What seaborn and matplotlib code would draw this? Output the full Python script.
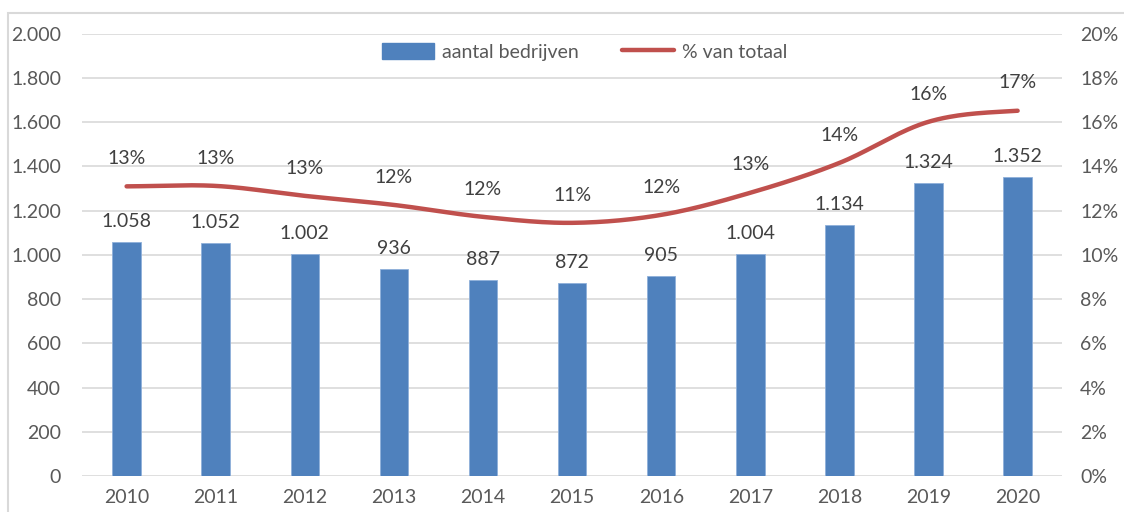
import numpy as np
import pandas as pd
import seaborn as sns
import matplotlib.pyplot as plt
import matplotlib.patches as patches
from matplotlib.lines import Line2D
from matplotlib.ticker import FuncFormatter

jaren = ['2010', '2011', '2012', '2013', '2014', '2015', '2016', '2017', '2018', '2019', '2020']
aantal = [1058, 1052, 1002, 936, 887, 872, 905, 1004, 1134, 1324, 1352]
procent = [13.10, 13.12, 12.67, 12.26, 11.72, 11.45, 11.81, 12.81, 14.16, 16.02, 16.52]

BLAUW = '#4F81BD'
ROOD = '#C0504D'
TEKST = '#595959'
GRID = '#D9D9D9'
FS = 14

sns.set_style('white')
plt.rcParams['font.family'] = ['Lato', 'DejaVu Sans']


def dutch(v, pos=None):
    return f'{int(round(v)):,}'.replace(',', '.')


def catmull_rom(y, n=30):
    # gladde lijn zoals Excel "smoothed line"
    y = np.asarray(y, dtype=float)
    p = np.concatenate([[y[0]], y, [y[-1]]])
    xs, ys = [], []
    for i in range(len(y) - 1):
        p0, p1, p2, p3 = p[i], p[i + 1], p[i + 2], p[i + 3]
        t = np.linspace(0, 1, n, endpoint=False)
        yy = 0.5 * ((2 * p1) + (-p0 + p2) * t + (2 * p0 - 5 * p1 + 4 * p2 - p3) * t ** 2
                    + (-p0 + 3 * p1 - 3 * p2 + p3) * t ** 3)
        xs.append(i + t)
        ys.append(yy)
    xs.append([len(y) - 1])
    ys.append([y[-1]])
    return np.concatenate(xs), np.concatenate(ys)


df = pd.DataFrame({'jaar': jaren, 'aantal': aantal, 'procent': procent})

fig = plt.figure(figsize=(11.24, 5.12), dpi=100)
ax = fig.add_axes([0.073, 0.0703, 0.872, 0.8637])

sns.barplot(data=df, x='jaar', y='aantal', color=BLAUW, width=0.32, saturation=1, ax=ax)
for p in ax.patches:
    p.set_edgecolor('#8FB0DA')
    p.set_linewidth(0.6)

ax.set_ylim(0, 2000)
ax.set_xlim(-0.5, len(jaren) - 0.5)
ax.set_yticks(range(0, 2001, 200))
ax.yaxis.set_major_formatter(FuncFormatter(dutch))
ax.grid(axis='y', color=GRID, linewidth=1.2)
ax.set_axisbelow(True)
for s in ax.spines.values():
    s.set_visible(False)
ax.set_xlabel('')
ax.set_ylabel('')
ax.tick_params(axis='both', length=0, labelsize=FS, labelcolor=TEKST)
ax.tick_params(axis='x', pad=9)
ax.tick_params(axis='y', pad=15)

for i, v in enumerate(aantal):
    ax.annotate(dutch(v), (i, v), xytext=(0, 15), textcoords='offset points',
                ha='center', va='center', fontsize=FS, color='#404040')

ax2 = ax.twinx()
ax2.set_ylim(0, 20)
ax2.set_yticks(range(0, 21, 2))
ax2.yaxis.set_major_formatter(FuncFormatter(lambda v, p: f'{int(v)}%'))
ax2.tick_params(axis='y', length=0, labelsize=FS, labelcolor=TEKST, pad=13)
for s in ax2.spines.values():
    s.set_visible(False)

sx, sy = catmull_rom(procent)
ax2.plot(sx, sy, color=ROOD, linewidth=3.2, solid_capstyle='round')
for i, v in enumerate(procent):
    ax2.annotate(f'{v:.0f}%', (i, v), xytext=(0, 20), textcoords='offset points',
                 ha='center', va='center', fontsize=FS, color='#404040')

handles = [patches.Patch(color=BLAUW),
           Line2D([0], [0], color=ROOD, linewidth=3.2, solid_capstyle='round')]
fig.legend(handles, ['aantal bedrijven', '% van totaal'], loc='center',
           bbox_to_anchor=(0.52, 1 - 52 / 512), ncol=2, frameon=False,
           fontsize=FS, labelcolor=TEKST, handlelength=2.7, handleheight=0.85,
           handletextpad=0.4, columnspacing=2.2)

# rand om het grafiekgebied
rand = patches.Rectangle((8 / 1124, -0.1), 1.2, 1 - 13 / 512 + 0.1, transform=fig.transFigure,
                         fill=False, edgecolor='#D9D9D9', linewidth=1.5)
fig.patches.append(rand)

fig.savefig('out.png', dpi=100, facecolor='white')
